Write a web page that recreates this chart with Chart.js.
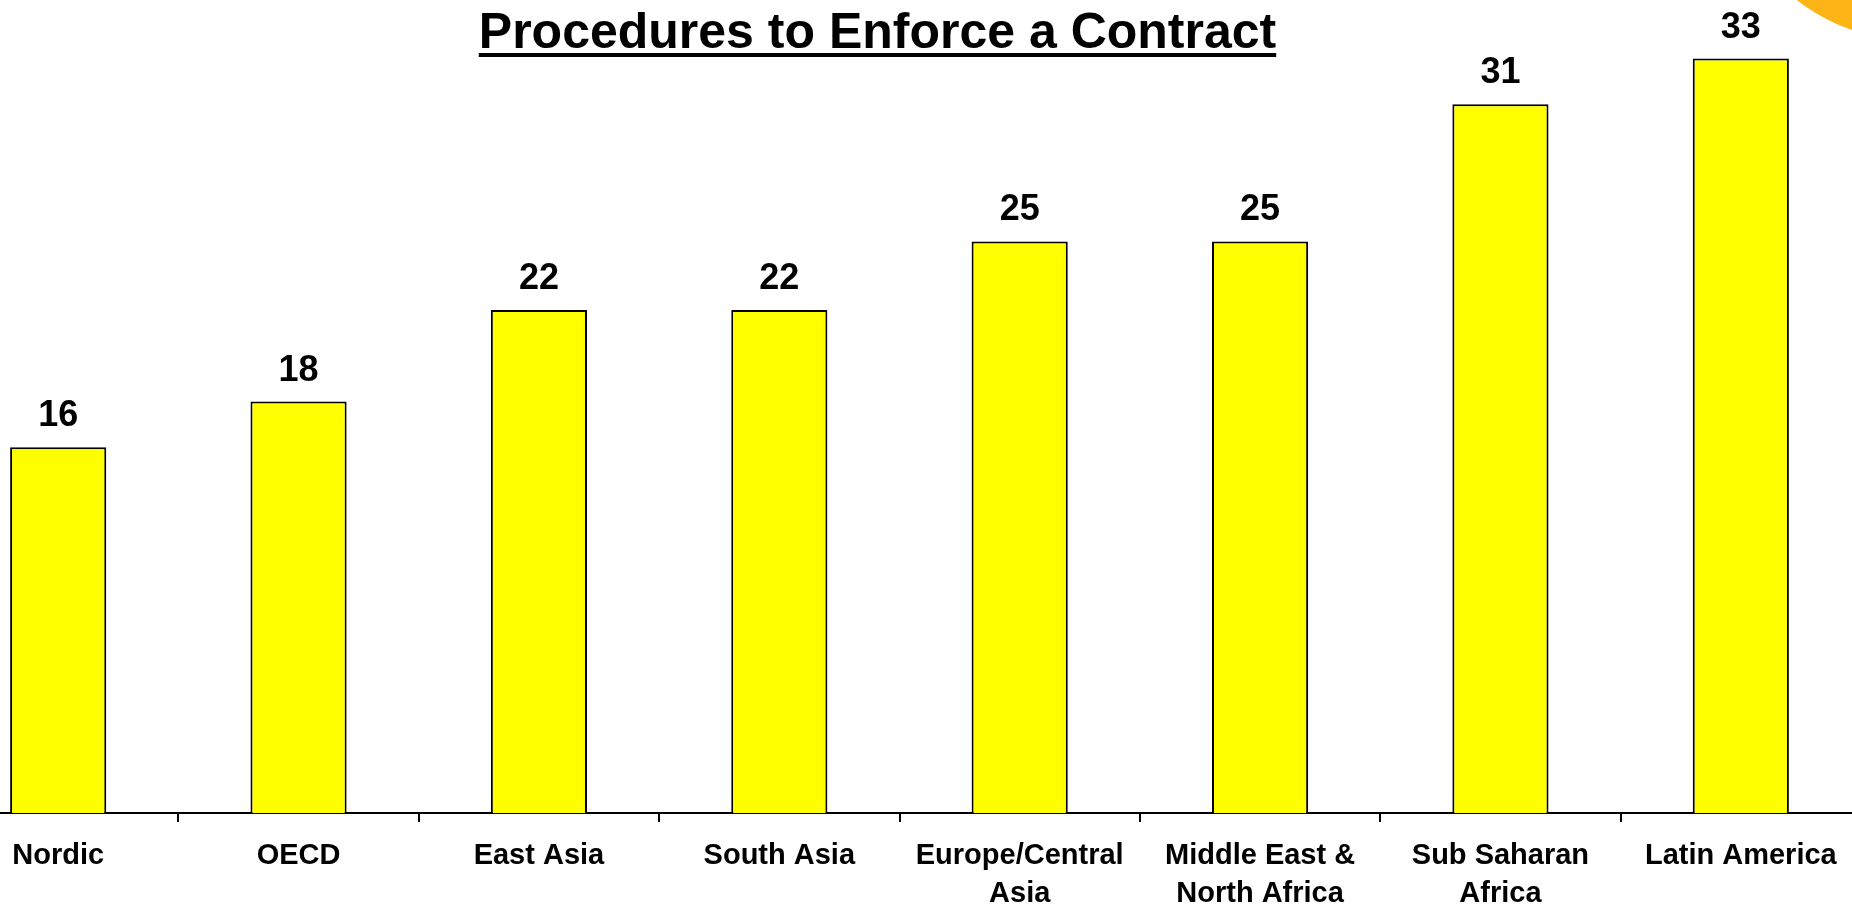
<!DOCTYPE html>
<html>
<head>
<meta charset="utf-8">
<script src="https://cdn.jsdelivr.net/npm/chart.js@4"></script>
<style>
  html, body { margin: 0; padding: 0; width: 1852px; height: 909px; overflow: hidden; background: #fff; }
  #swoosh { position: absolute; left: 1718px; top: -362px; width: 404px; height: 404px; border-radius: 50%; background: #FDB417; }
  #title {
    position: absolute; left: 0; top: 2px; width: 1755px; text-align: center;
    font: bold 50px "Liberation Sans", Arial, sans-serif; color: #000;
    text-decoration: underline; text-decoration-thickness: 4px; text-underline-offset: 5px;
  }
  #wrap { position: absolute; left: -62px; top: -10px; width: 1923px; height: 943px; }
</style>
</head>
<body>
<div id="swoosh"></div>
<div id="wrap"><canvas id="chart"></canvas></div>
<div id="title">Procedures to Enforce a Contract</div>
<script>
// Datos
const regions = ['Nordic', 'OECD', 'East Asia', 'South Asia', ['Europe/Central', 'Asia'],
                 ['Middle East &', 'North Africa'], ['Sub Saharan', 'Africa'], 'Latin America'];
const procedures = [16, 18, 22, 22, 25, 25, 31, 33];
const yMax = 36;

// etiquetas de valor encima de cada barra
const valueLabels = {
  id: 'valueLabels',
  afterDatasetsDraw(chart) {
    const ctx = chart.ctx;
    const meta = chart.getDatasetMeta(0);
    ctx.save();
    ctx.font = 'bold 36px "Liberation Sans", Arial, sans-serif';
    ctx.fillStyle = '#000';
    ctx.textAlign = 'center';
    ctx.textBaseline = 'alphabetic';
    meta.data.forEach((bar, i) => {
      ctx.fillText(procedures[i], bar.x, bar.y - 21);
    });
    ctx.restore();
  }
};

const ctx = document.getElementById('chart').getContext('2d');
new Chart(ctx, {
  type: 'bar',
  data: {
    labels: regions,
    datasets: [{
      data: procedures,
      backgroundColor: '#FFFF00',
      borderColor: '#000',
      borderWidth: 2,
      categoryPercentage: 1,
      barPercentage: 0.4
    }]
  },
  options: {
    responsive: true,
    maintainAspectRatio: false,
    animation: false,
    layout: { padding: 0 },
    plugins: { legend: { display: false }, tooltip: { enabled: false }, title: { display: false } },
    scales: {
      x: {
        offset: true,
        afterFit: s => { s.height = 120; },
        border: { display: true, color: '#000', width: 2 },
        grid: { offset: true, drawOnChartArea: false, drawTicks: true, tickLength: 9, color: '#000', lineWidth: 2 },
        ticks: {
          color: '#000', padding: 15, maxRotation: 0, minRotation: 0, autoSkip: false,
          font: { family: '"Liberation Sans", Arial, sans-serif', size: 29, weight: 'bold', lineHeight: 1.31 }
        }
      },
      y: { display: false, min: 0, max: yMax }
    }
  },
  plugins: [valueLabels]
});
</script>
</body>
</html>
